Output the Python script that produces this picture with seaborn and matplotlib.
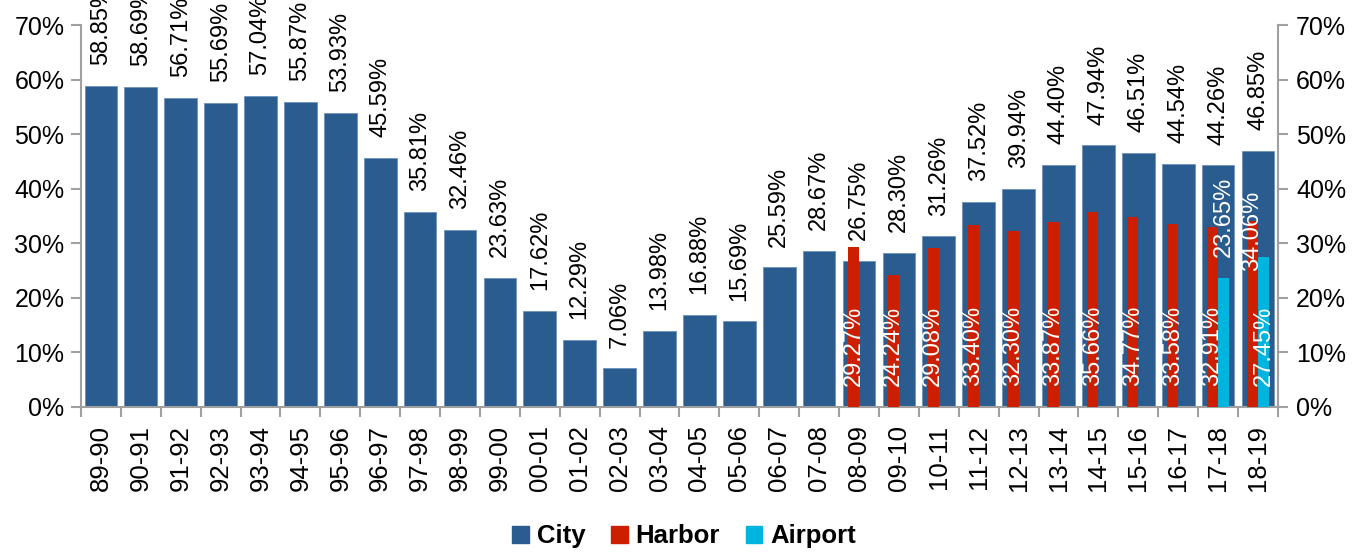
import numpy as np
import pandas as pd
import matplotlib
matplotlib.use("Agg")
import matplotlib.pyplot as plt
import seaborn as sns
from matplotlib.patches import Patch

# fiscal years on the x axis
years = ['89-90', '90-91', '91-92', '92-93', '93-94', '94-95', '95-96', '96-97',
         '97-98', '98-99', '99-00', '00-01', '01-02', '02-03', '03-04', '04-05',
         '05-06', '06-07', '07-08', '08-09', '09-10', '10-11', '11-12', '12-13',
         '13-14', '14-15', '15-16', '16-17', '17-18', '18-19']

city = [58.85, 58.69, 56.71, 55.69, 57.04, 55.87, 53.93, 45.59, 35.81, 32.46,
        23.63, 17.62, 12.29, 7.06, 13.98, 16.88, 15.69, 25.59, 28.67, 26.75,
        28.30, 31.26, 37.52, 39.94, 44.40, 47.94, 46.51, 44.54, 44.26, 46.85]

nan = np.nan
harbor = [nan] * 19 + [29.27, 24.24, 29.08, 33.40, 32.30, 33.87, 35.66, 34.77,
                       33.58, 32.91, 34.06]
airport = [nan] * 28 + [23.65, 27.45]

# where the white labels sit: 'base' = inside near the axis, 'top' = near the bar end
harbor_label_pos = ['base'] * 29 + ['top']
airport_label_pos = ['base'] * 28 + ['top', 'base']

CITY_C = '#2B5C8F'
HARBOR_C = '#CC1F00'
AIRPORT_C = '#00B5DD'
AXIS_C = '#A0A0A0'

sns.set_theme(style='white')
plt.rcParams['font.family'] = ['Liberation Sans', 'DejaVu Sans']
plt.rcParams['text.color'] = 'black'
plt.rcParams['xtick.color'] = 'black'
plt.rcParams['ytick.color'] = 'black'

df = pd.DataFrame({'year': years, 'City': city, 'Harbor': harbor, 'Airport': airport})

fig = plt.figure(figsize=(13.68, 5.52), dpi=100)
ax = fig.add_axes([0.0592, 0.2627, 0.875, 0.692])

sns.barplot(data=df, x='year', y='City', color=CITY_C, width=0.82, saturation=1,
            edgecolor='#6E92BC', linewidth=0.6, ax=ax)

pos = np.arange(len(years))
ax.bar(pos - 0.14, df['Harbor'], width=0.28, color=HARBOR_C, linewidth=0, zorder=3)
ax.bar(pos + 0.14, df['Airport'], width=0.28, color=AIRPORT_C, linewidth=0, zorder=3)

lab_fs = 17
for i, v in enumerate(city):
    ax.annotate(f'{v:.2f}%', (i, v), xytext=(0, 15), textcoords='offset points',
                rotation=90, ha='center', va='bottom', fontsize=lab_fs, color='black',
                annotation_clip=False)

for i, v in enumerate(harbor):
    if np.isnan(v):
        continue
    if harbor_label_pos[i] == 'base':
        xy, off = (i - 0.14, 0), 15
    else:
        xy, off = (i - 0.14, v), -36
    ax.annotate(f'{v:.2f}%', xy, xytext=(0, off), textcoords='offset points',
                rotation=90, ha='center', va='bottom', fontsize=lab_fs, color='white',
                zorder=5)

for i, v in enumerate(airport):
    if np.isnan(v):
        continue
    xy = (i + 0.14, 0) if airport_label_pos[i] == 'base' else (i + 0.14, v)
    ax.annotate(f'{v:.2f}%', xy, xytext=(0, 15), textcoords='offset points',
                rotation=90, ha='center', va='bottom', fontsize=lab_fs, color='white',
                zorder=5)

ax.set_ylim(0, 70)
ax.set_xlim(-0.5, len(years) - 0.5)
yt = np.arange(0, 71, 10)
ax.set_yticks(yt)
ax.set_yticklabels([f'{t}%' for t in yt])
ax.set_xlabel('')
ax.set_ylabel('')

# category labels at bar centres, tick marks on the boundaries
ax.set_xticks(pos)
ax.set_xticklabels(years, rotation=90)
ax.set_xticks(np.arange(-0.5, len(years), 1), minor=True)
ax.tick_params(axis='x', which='major', length=0, pad=13, labelsize=18.5)
ax.tick_params(axis='x', which='minor', length=7, width=1.5, color=AXIS_C, direction='out',
               bottom=True)
ax.tick_params(axis='y', length=7, width=1.5, color=AXIS_C, direction='out', labelsize=18,
               pad=5, left=True)

for s in ['left', 'right', 'bottom']:
    ax.spines[s].set_visible(True)
    ax.spines[s].set_color(AXIS_C)
    ax.spines[s].set_linewidth(1.5)
ax.spines['top'].set_visible(False)

ax2 = ax.twinx()
ax2.set_ylim(0, 70)
ax2.set_yticks(yt)
ax2.set_yticklabels([f'{t}%' for t in yt])
ax2.tick_params(axis='y', length=7, width=1.5, color=AXIS_C, direction='out', labelsize=18,
                pad=6, right=True)
for s in ax2.spines.values():
    s.set_visible(False)
ax2.grid(False)
ax.grid(False)

handles = [Patch(color=CITY_C, label='City'), Patch(color=HARBOR_C, label='Harbor'),
           Patch(color=AIRPORT_C, label='Airport')]
fig.legend(handles=handles, loc='lower center', bbox_to_anchor=(0.5, -0.035), ncol=3,
           frameon=False, prop={'size': 18.5, 'weight': 'bold'}, handlelength=0.65,
           handleheight=0.65, handletextpad=0.3, columnspacing=1.0)

fig.savefig('out.png', dpi=100)
